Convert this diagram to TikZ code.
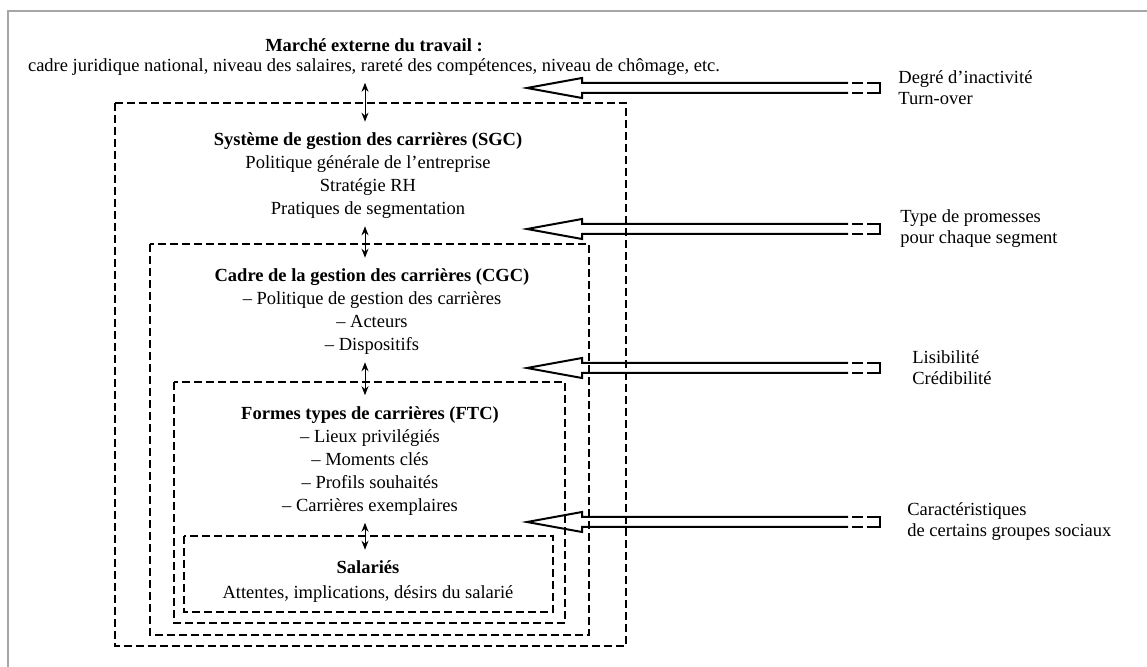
\documentclass[tikz,border=0pt]{standalone}
\usepackage{fontspec}
\setmainfont{Liberation Serif}
\usetikzlibrary{arrows.meta}
\tikzset{
	txt/.style={align=center, inner sep=2pt, font=\fontsize{9.25}{11.5}\selectfont},
	lbl/.style={align=left, anchor=west, inner sep=0pt, font=\fontsize{9.25}{10.5}\selectfont},
	zone/.style={dash pattern=on 4pt off 2pt, line width=0.75pt},
	link/.style={<->, >={Stealth[length=4.5pt,width=3.5pt]}, line width=0.5pt, shorten <=1.5pt, shorten >=3.5pt},
	pics/feed/.style={code={
		\draw[line width=1pt] (321,-5) -- (55,-5) -- (55,-10) -- (0,0) -- (55,10) -- (55,5) -- (321,5);
		\draw[line width=1pt] (325,-5) -- (336,-5) (340,-5) -- (353,-5) -- (353,5) -- (340,5) (336,5) -- (325,5);
	}}
}
\begin{document}
\begin{tikzpicture}[x=0.5pt,y=-0.5pt]
	\useasboundingbox (0,0) rectangle (1147,667);
	\draw[gray!70, line width=0.8pt] (8,667) -- (8,11) -- (1147,11);

	\draw[zone] (115,103) rectangle (626,646);
	\draw[zone] (150,244) rectangle (589,635);
	\draw[zone] (174,382) rectangle (565,623);
	\draw[zone] (184,536) rectangle (553,612);

	\node[txt] (mkt) at (374, 57) {\textbf{Marché externe du travail :}\\[-1.5pt]
		cadre juridique national, niveau des salaires, rareté des compétences, niveau de chômage, etc.};
	\node[txt] (sgc) at (368,176) {\textbf{Système de gestion des carrières (SGC)}\\
		Politique générale de l'entreprise\\ Stratégie RH\\ Pratiques de segmentation};
	\node[txt] (cgc) at (372,312) {\textbf{Cadre de la gestion des carrières (CGC)}\\
		– Politique de gestion des carrières\\ – Acteurs\\ – Dispositifs};
	\node[txt] (ftc) at (370,461) {\textbf{Formes types de carrières (FTC)}\\
		– Lieux privilégiés\\ – Moments clés\\ – Profils souhaités\\ – Carrières exemplaires};
	\node[txt] (sal) at (368,582) {\textbf{Salariés}\\[1pt] Attentes, implications, désirs du salarié};

	\node[lbl] (ina)  at (898, 88) {Degré d'inactivité\\ Turn-over};
	\node[lbl] (prom) at (900,229) {Type de promesses\\ pour chaque segment};
	\node[lbl] (lis)  at (912,368) {Lisibilité\\ Crédibilité};
	\node[lbl] (car)  at (907,522) {Caractéristiques\\ de certains groupes sociaux};

	\coordinate (ax) at (365,0);
	\draw[link] (mkt.south -| ax) -- (sgc.north -| ax);
	\draw[link] (sgc.south -| ax) -- (cgc.north -| ax);
	\draw[link] (cgc.south -| ax) -- (ftc.north -| ax);
	\draw[link] (ftc.south -| ax) -- (sal.north -| ax);

	\coordinate (tip) at (527,0);
	\foreach \l in {ina,prom,lis,car}
		\pic at (tip |- \l.west) {feed};
\end{tikzpicture}
\end{document}
